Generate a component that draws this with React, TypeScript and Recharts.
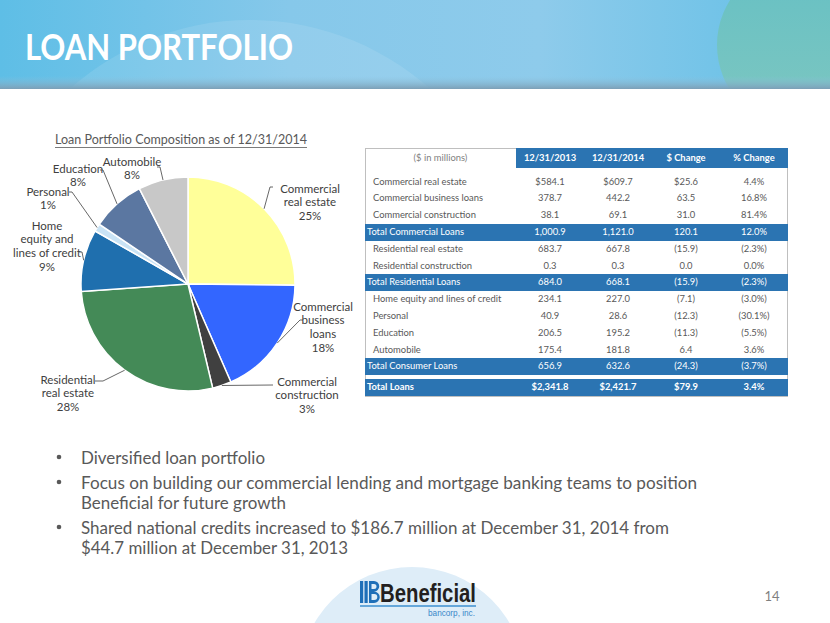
import React from "react";
import { PieChart, Pie, Cell } from "recharts";

// ---------- data ----------
const CATEGORIES = [
  "Commercial real estate",
  "Commercial business loans",
  "Commercial construction",
  "Residential real estate",
  "Residential construction",
  "Home equity and lines of credit",
  "Personal",
  "Education",
  "Automobile",
];
const VALUES_2013 = [584.1, 378.7, 38.1, 683.7, 0.3, 234.1, 40.9, 206.5, 175.4];
const VALUES_2014 = [609.7, 442.2, 69.1, 667.8, 0.3, 227.0, 28.6, 195.2, 181.8];
const DOLLAR_CHANGE = [25.6, 63.5, 31.0, -15.9, 0.0, -7.1, -12.3, -11.3, 6.4];
const PCT_CHANGE = [4.4, 16.8, 81.4, -2.3, 0.0, -3.0, -30.1, -5.5, 3.6];

const TOTAL_LABELS = ["Total Commercial Loans", "Total Residential Loans", "Total Consumer Loans", "Total Loans"];
const TOTAL_2013 = [1000.9, 684.0, 656.9, 2341.8];
const TOTAL_2014 = [1121.0, 668.1, 632.6, 2421.7];
const TOTAL_CHANGE = [120.1, -15.9, -24.3, 79.9];
const TOTAL_PCT = [12.0, -2.3, -3.7, 3.4];
const GROUPS = [[0, 1, 2], [3, 4], [5, 6, 7, 8]];

const COLUMN_HEADERS = ["12/31/2013", "12/31/2014", "$ Change", "% Change"];

// pie (2014 composition; residential construction omitted, too small to show)
const PIE_INDEXES = [0, 1, 2, 3, 5, 6, 7, 8];
const PIE_LABELS = [
  "Commercial\nreal estate",
  "Commercial\nbusiness\nloans",
  "Commercial\nconstruction",
  "Residential\nreal estate",
  "Home\nequity and\nlines of credit",
  "Personal",
  "Education",
  "Automobile",
];
const PIE_COLORS = ["#FFFF99", "#3366FF", "#404040", "#448A57", "#1F6FAE", "#C9E3F5", "#5B77A1", "#C8C8C8"];

const BULLETS = [
  ["Diversified loan portfolio"],
  ["Focus on building our commercial lending and mortgage banking teams to position", "Beneficial for future growth"],
  ["Shared national credits increased to $186.7 million at December 31, 2014 from", "$44.7 million at December 31, 2013"],
];

// ---------- layout (styling only) ----------
const FONT = "Lato, 'Open Sans', sans-serif";
const BLUE = "#2B74B2";
const GRAY_TEXT = "#595959";
const LABEL_LAYOUT = [
  { elbow: [82, -97], tick: 3, text: [122, -96] },
  { elbow: [112, 36], tick: 3, text: [135, 22] },
  { elbow: [85, 101], tick: 0, text: [119, 97] },
  { elbow: [-85, 97], tick: -8, text: [-120, 95] },
  { elbow: [-106, -32], tick: -3, text: [-141, -59] },
  { elbow: [-116, -92], tick: -3, text: [-140, -93] },
  { elbow: [-85, -114], tick: -3, text: [-110, -116] },
  { elbow: [-28, -117], tick: -3, text: [-56, -123] },
];
const BULLET_WIDTHS = [[184], [616, 205], [588, 267]];
const BULLET_Y = [[457], [482, 502], [527, 547]];

const pieData = PIE_INDEXES.map((i, k) => ({ name: PIE_LABELS[k], value: VALUES_2014[i] }));

const RAD = Math.PI / 180;
const renderLabel = (props: any) => {
  const { cx, cy, midAngle, outerRadius, index, percent, name } = props;
  const lay = LABEL_LAYOUT[index];
  const sx = cx + Math.cos(-midAngle * RAD) * outerRadius;
  const sy = cy + Math.sin(-midAngle * RAD) * outerRadius;
  const ex = cx + lay.elbow[0];
  const ey = cy + lay.elbow[1];
  const lines = [...String(name).split("\n"), `${Math.round(percent * 100)}%`];
  return (
    <g key={`lbl-${index}`}>
      <polyline
        points={`${sx},${sy} ${ex},${ey} ${ex + lay.tick},${ey}`}
        fill="none"
        stroke="#404040"
        strokeWidth={0.8}
      />
      {lines.map((t, j) => (
        <text
          key={j}
          x={cx + lay.text[0]}
          y={cy + lay.text[1] + j * 13.8}
          textAnchor="middle"
          dominantBaseline="central"
          fontFamily={FONT}
          fontSize={11.5}
          fill="#404040"
        >
          {t}
        </text>
      ))}
    </g>
  );
};

const fmt = (v: number, dollar: boolean) => {
  const s = Math.abs(v).toLocaleString("en-US", { minimumFractionDigits: 1, maximumFractionDigits: 1 });
  const body = (dollar ? "$" : "") + s;
  return v < 0 ? `(${body})` : body;
};
const fmtPct = (v: number) => {
  const s = Math.abs(v).toFixed(1) + "%";
  return v < 0 ? `(${s})` : s;
};

const COL_CENTERS = [550, 618, 686, 754];
const TABLE_L = 365;
const TABLE_R = 788;
const ROW_H = 16.8;
const TFS = 9.4;

type Row = { label: string; vals: string[]; kind: "data" | "total" | "grand"; top: number };

function buildRows(): Row[] {
  const rows: Row[] = [];
  let top = 173.6;
  GROUPS.forEach((g, gi) => {
    g.forEach((i) => {
      const dollar = i === 0;
      rows.push({
        label: CATEGORIES[i],
        vals: [fmt(VALUES_2013[i], dollar), fmt(VALUES_2014[i], dollar), fmt(DOLLAR_CHANGE[i], dollar), fmtPct(PCT_CHANGE[i])],
        kind: "data",
        top,
      });
      top += ROW_H;
    });
    rows.push({
      label: TOTAL_LABELS[gi],
      vals: [fmt(TOTAL_2013[gi], false), fmt(TOTAL_2014[gi], false), fmt(TOTAL_CHANGE[gi], false), fmtPct(TOTAL_PCT[gi])],
      kind: "total",
      top,
    });
    top += ROW_H;
  });
  rows.push({
    label: TOTAL_LABELS[3],
    vals: [fmt(TOTAL_2013[3], true), fmt(TOTAL_2014[3], true), fmt(TOTAL_CHANGE[3], true), fmtPct(TOTAL_PCT[3])],
    kind: "grand",
    top: top + 4.2,
  });
  return rows;
}

function Table() {
  const rows = buildRows();
  const abs: React.CSSProperties = { position: "absolute" };
  return (
    <div style={{ ...abs, left: 0, top: 0 }}>
      <div style={{ ...abs, left: TABLE_L, top: 148, width: TABLE_R - TABLE_L, height: 249, border: "1px solid #BFBFBF", boxSizing: "border-box" }} />
      <div style={{ ...abs, left: 516, top: 148, width: TABLE_R - 516, height: 20, background: BLUE }} />
      <div style={{ ...abs, left: TABLE_L, top: 148, width: 516 - TABLE_L, height: 20, lineHeight: "20px", textAlign: "center", fontSize: TFS, color: "#7F7F7F", fontFamily: FONT }}>
        ($ in millions)
      </div>
      {COLUMN_HEADERS.map((h, k) => (
        <div key={h} style={{ ...abs, left: COL_CENTERS[k] - 34, top: 148, width: 68, height: 20, lineHeight: "20px", textAlign: "center", fontSize: TFS, fontWeight: 700, color: "#fff", fontFamily: FONT }}>
          {h}
        </div>
      ))}
      {rows.map((r, ri) => {
        const isTotal = r.kind !== "data";
        const color = isTotal ? "#fff" : GRAY_TEXT;
        const bold = r.kind === "grand" ? 700 : 400;
        return (
          <div key={ri}>
            {isTotal && (
              <div style={{ ...abs, left: TABLE_L, top: r.top, width: TABLE_R - TABLE_L, height: ROW_H, background: BLUE }} />
            )}
            <div style={{ ...abs, left: isTotal ? 367 : 373, top: r.top, height: ROW_H, lineHeight: `${ROW_H}px`, fontSize: TFS, color, fontWeight: bold, fontFamily: FONT, whiteSpace: "nowrap" }}>
              {r.label}
            </div>
            {r.vals.map((v, k) => (
              <div key={k} style={{ ...abs, left: COL_CENTERS[k] - 34, top: r.top, width: 68, height: ROW_H, lineHeight: `${ROW_H}px`, textAlign: "center", fontSize: TFS, color, fontWeight: bold, fontFamily: FONT }}>
                {v}
              </div>
            ))}
          </div>
        );
      })}
    </div>
  );
}

export default function App() {
  return (
    <div style={{ position: "absolute", left: 0, top: 0, width: 830, height: 623, overflow: "hidden", background: "#fff", fontFamily: FONT }}>
      <svg width={830} height={623} style={{ position: "absolute", left: 0, top: 0 }}>
        <defs>
          <linearGradient id="sky" x1="0" y1="0" x2="1" y2="0">
            <stop offset="0" stopColor="#5EBEE6" />
            <stop offset="0.35" stopColor="#86C8EA" />
            <stop offset="0.65" stopColor="#8ECBEB" />
            <stop offset="1" stopColor="#62BFE6" />
          </linearGradient>
          <linearGradient id="strip" x1="0" y1="0" x2="0" y2="1">
            <stop offset="0" stopColor="#8EC3DE" stopOpacity="0" />
            <stop offset="1" stopColor="#7C9FB6" />
          </linearGradient>
          <linearGradient id="teal" x1="0" y1="0" x2="0" y2="1">
            <stop offset="0" stopColor="#66C0C4" />
            <stop offset="1" stopColor="#7EC7C0" />
          </linearGradient>
          <clipPath id="hdr">
            <rect x={0} y={0} width={830} height={89} />
          </clipPath>
        </defs>
        <circle cx={412} cy={680} r={113} fill="#DEEDF8" />
        <g clipPath="url(#hdr)">
          <rect x={0} y={0} width={830} height={89} fill="url(#sky)" />
          <circle cx={250} cy={290} r={270} fill="#ffffff" opacity={0.1} />
          <circle cx={801} cy={45} r={84} fill="url(#teal)" />
          <rect x={0} y={76} width={830} height={13} fill="url(#strip)" />
        </g>
        <text x={25} y={60} fontFamily={FONT} fontWeight={700} fontSize={37} fill="#fff" textLength={268} lengthAdjust="spacingAndGlyphs">
          LOAN PORTFOLIO
        </text>
        <text x={55} y={144} fontFamily={FONT} fontSize={13.5} fill={GRAY_TEXT} textLength={252} lengthAdjust="spacingAndGlyphs">
          Loan Portfolio Composition as of 12/31/2014
        </text>
        <line x1={55} x2={307} y1={147.5} y2={147.5} stroke={GRAY_TEXT} strokeWidth={0.8} />
        {BULLETS.map((b, bi) => (
          <g key={bi}>
            <circle cx={59} cy={BULLET_Y[bi][0]} r={2.3} fill={GRAY_TEXT} />
            {b.map((line, li) => (
              <text key={li} x={81} y={BULLET_Y[bi][li]} dominantBaseline="central" fontFamily={FONT} fontSize={17.5} fill={GRAY_TEXT} textLength={BULLET_WIDTHS[bi][li]} lengthAdjust="spacingAndGlyphs">
                {line}
              </text>
            ))}
          </g>
        ))}
        <text x={772} y={596} dominantBaseline="central" textAnchor="middle" fontFamily={FONT} fontSize={13} fill="#7F7F7F">
          14
        </text>
        <g>
          <rect x={360} y={581} width={3.2} height={22} fill="#1E6FB8" />
          <rect x={364.5} y={581} width={3.2} height={22} fill="#1E6FB8" />
          <path d="M369 581 h5 a5 5 0 0 1 0 10.5 a5.5 5.5 0 0 1 0 11.5 h-5 z M371.5 584 v5 h2.5 a2.5 2.5 0 0 0 0 -5 z M371.5 594 v6 h2.8 a3 3 0 0 0 0 -6 z" fill="#1E6FB8" fillRule="evenodd" />
          <text x={380} y={602} fontFamily="'Liberation Sans', Arial, sans-serif" fontWeight={700} fontSize={25} fill="#231F20" textLength={96} lengthAdjust="spacingAndGlyphs">
            Beneficial
          </text>
          <line x1={360} x2={476} y1={606} y2={606} stroke="#3D8FD0" strokeWidth={1.5} />
          <text x={428} y={615.5} fontFamily="'Liberation Sans', Arial, sans-serif" fontSize={9} fill="#3A87C8" textLength={47} lengthAdjust="spacingAndGlyphs">
            bancorp, inc.
          </text>
        </g>
      </svg>

      <div style={{ position: "absolute", left: 0, top: 130 }}>
        <PieChart width={360} height={300} margin={{ top: 0, right: 0, bottom: 0, left: 0 }}>
          <Pie
            data={pieData}
            dataKey="value"
            nameKey="name"
            cx={188}
            cy={154}
            outerRadius={107}
            startAngle={90}
            endAngle={-270}
            stroke="#ffffff"
            strokeWidth={1.5}
            label={renderLabel}
            labelLine={false}
            isAnimationActive={false}
          >
            {pieData.map((d, i) => (
              <Cell key={i} fill={PIE_COLORS[i]} />
            ))}
          </Pie>
        </PieChart>
      </div>

      <Table />
    </div>
  );
}
